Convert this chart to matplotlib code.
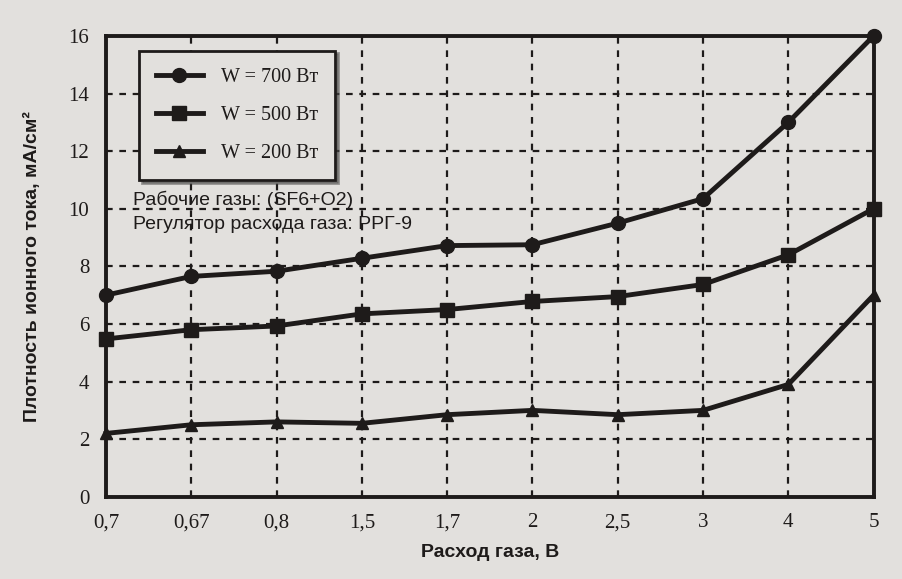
import matplotlib.pyplot as plt
from matplotlib.lines import Line2D

# расход газа (категории по оси X)
flow_labels = ["0,7", "0,67", "0,8", "1,5", "1,7", "2", "2,5", "3", "4", "5"]

# плотность ионного тока, мА/см2
w700 = [7.0, 7.65, 7.83, 8.28, 8.72, 8.75, 9.5, 10.35, 13.0, 16.0]
w500 = [5.48, 5.8, 5.93, 6.35, 6.5, 6.78, 6.95, 7.37, 8.4, 10.0]
w200 = [2.2, 2.5, 2.6, 2.55, 2.85, 3.0, 2.85, 3.0, 3.9, 7.0]

series_names = ["W = 700 Вт", "W = 500 Вт", "W = 200 Вт"]
y_ticks = [0, 2, 4, 6, 8, 10, 12, 14, 16]

bg = "#e2e0dd"
ink = "#1e1b1a"

fig = plt.figure(figsize=(9.02, 5.79), dpi=100, facecolor=bg)
ax = fig.add_axes([0.1175, 0.142, 0.851, 0.796], facecolor=bg)

x = list(range(len(flow_labels)))
markers = ["o", "s", "^"]
sizes = [10, 10, 9]
for vals, m, ms in zip([w700, w500, w200], markers, sizes):
    ax.plot(x, vals, color=ink, lw=3.5, marker=m, ms=ms, clip_on=False, zorder=3)

ax.set_xlim(0, len(flow_labels) - 1)
ax.set_ylim(0, 16)
ax.set_xticks(x)
ax.set_xticklabels(flow_labels)
ax.set_yticks(y_ticks)
ax.tick_params(length=0, pad=12, labelsize=15, colors=ink)
for lbl in ax.get_xticklabels() + ax.get_yticklabels():
    lbl.set_family("Liberation Serif")

ax.grid(True, color=ink, lw=1.6, linestyle=(0, (3, 3)))
for s in ax.spines.values():
    s.set_linewidth(2.8)
    s.set_color(ink)

ax.set_xlabel("Расход газа, В", fontsize=14, fontweight="bold", family="Liberation Sans",
              color=ink, labelpad=8)
ax.set_ylabel("Плотность ионного тока, мА/см²", fontsize=14, fontweight="bold",
              family="Liberation Sans", color=ink, labelpad=20)

handles = [Line2D([], [], color=ink, lw=3.5, marker=m, ms=ms) for m, ms in zip(markers, sizes)]
leg = ax.legend(handles, series_names, loc="upper left", bbox_to_anchor=(0.03, 0.99),
                frameon=True, fancybox=False, shadow=True, handlelength=2.3,
                borderpad=0.85, labelspacing=0.95, handletextpad=0.9,
                prop={"family": "Liberation Serif", "size": 14.5})
leg.get_frame().set_edgecolor(ink)
leg.get_frame().set_linewidth(2)
leg.get_frame().set_facecolor(bg)
for t in leg.get_texts():
    t.set_color(ink)

ax.text(0.035, 0.644, "Рабочие газы: (SF6+O2)", transform=ax.transAxes,
        fontsize=14, family="Liberation Sans", color=ink, va="center")
ax.text(0.035, 0.59, "Регулятор расхода газа: РРГ-9", transform=ax.transAxes,
        fontsize=14, family="Liberation Sans", color=ink, va="center")

fig.savefig("out.png", dpi=100, facecolor=bg)
